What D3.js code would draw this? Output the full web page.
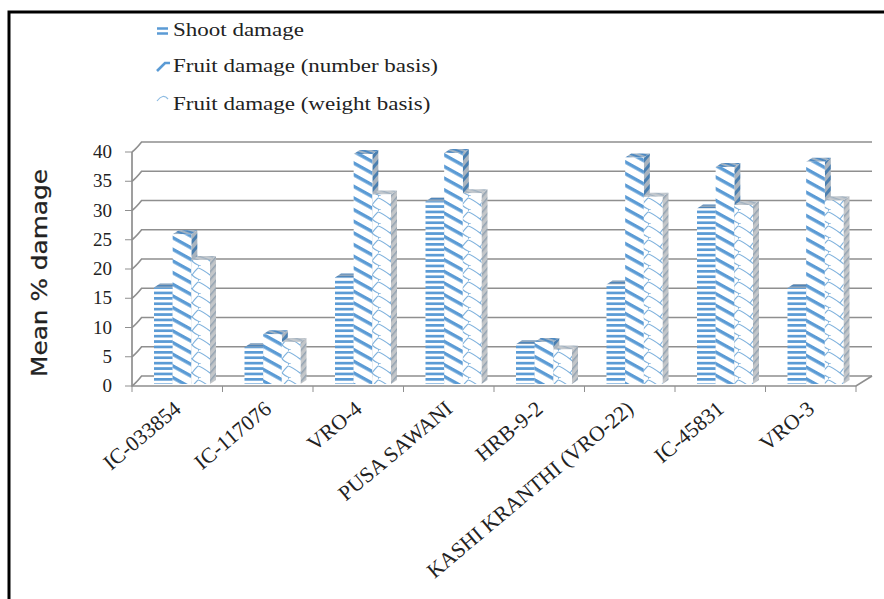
<!DOCTYPE html>
<html><head><meta charset="utf-8">
<script src="https://cdn.jsdelivr.net/npm/d3@7/dist/d3.min.js"></script>
<style>html,body{margin:0;padding:0;background:#fff}svg{display:block}</style>
</head><body><svg id="c" width="884" height="599"></svg>
<script>
const categories = ["IC-033854","IC-117076","VRO-4","PUSA SAWANI","HRB-9-2","KASHI KRANTHI (VRO-22)","IC-45831","VRO-3"];
const seriesNames = ["Shoot damage","Fruit damage (number basis)","Fruit damage (weight basis)"];
const shootDamage = [16.5,6.3,18.2,31.2,6.8,17.0,30.0,16.4];
const fruitNumber = [25.6,8.5,39.3,39.5,7.2,38.7,37.1,38.0];
const fruitWeight = [21.2,7.2,32.4,32.6,5.9,32.0,30.6,31.4];
const allSeries = [shootDamage,fruitNumber,fruitWeight];
const yTicks = [0,5,10,15,20,25,30,35,40];

const svg = d3.select("#c");
const blue = "#5b9bd5", gridCol = "#8f8f8f";
const serif = "'Liberation Serif',serif";
const x0 = d3.scaleBand().domain(categories).range([132,856]);
const y = d3.scaleLinear().domain([0,40]).range([386,152]);
const xs = d3.scaleBand().domain([0,1,2]).range([0,56]);
const wallDx = 16, wallDy = -10, barDx = 6, barDy = -4, barBase = -2, barInset = 22;

const defs = svg.append("defs");
function stripes(id,bg,fg,angle,period,thick){
  const p = defs.append("pattern").attr("id",id).attr("patternUnits","userSpaceOnUse")
    .attr("width",period).attr("height",period).attr("patternTransform",`rotate(${angle})`);
  p.append("rect").attr("width",period).attr("height",period).attr("fill",bg);
  p.append("rect").attr("width",period).attr("height",thick).attr("fill",fg);
}
function weave(id,bg,fg){
  const p = defs.append("pattern").attr("id",id).attr("patternUnits","userSpaceOnUse")
    .attr("width",18).attr("height",14);
  p.append("rect").attr("width",18).attr("height",14).attr("fill",bg);
  p.append("path").attr("fill","none").attr("stroke",fg).attr("stroke-width",1.1)
    .attr("d","M0,2 C4,3 8,6 12,9 C14,11 16,12 18,13 M12,9 C14,6 16,4 18,2 M0,13 C1,14 2,14 3,14 M0,2 C-1,1 0,0 1,0");
}
stripes("pS1","#fff",blue,0,5.4,2.7);
stripes("pS2","#fff",blue,29,10.2,3.4);
weave("pS3","#fff","#7fb2dd");
stripes("pS1t","#8fa6bd","#4f86bb",0,3,1.4);
stripes("pS2s","#a9b4bf","#4a7fb0",-50,7,3);
stripes("pS3s","#c3c6c9","#93a3b2",-50,5,1.5);
stripes("pS2t","#9fb2c4","#4f8ac2",20,4,2);
stripes("pS3t","#c4c9ce","#9fb0c0",20,4,1.4);
const faces = [
 {front:"url(#pS1)",side:"url(#pS1t)",top:"url(#pS1t)"},
 {front:"url(#pS2)",side:"url(#pS2s)",top:"url(#pS2t)"},
 {front:"url(#pS3)",side:"url(#pS3s)",top:"url(#pS3t)"}];

// frame
svg.append("path").attr("d","M9,599V12H884").attr("fill","none").attr("stroke","#000").attr("stroke-width",3);

// walls and gridlines
const grid = svg.append("g").attr("fill","none").attr("stroke",gridCol).attr("stroke-width",1.6);
grid.selectAll("path.g").data(yTicks).join("path").attr("class","g")
  .attr("d",d=>`M132,${y(d)}Q136,${y(d)+wallDy*0.3} ${132+wallDx*0.6},${y(d)+wallDy}H${856+wallDx}`);
grid.append("path").attr("d",`M132,${y(40)}V${y(0)}H856L${856+wallDx},${y(0)+wallDy}`).attr("stroke-width",1.7);
grid.selectAll("path.yt").data(yTicks).join("path").attr("class","yt")
  .attr("d",d=>`M125,${y(d)}H132`).attr("stroke-width",1);
const xTickPos = categories.map(c=>x0(c)).concat([856]);
grid.selectAll("path.xt").data(xTickPos).join("path").attr("class","xt")
  .attr("d",d=>`M${d},${y(0)}V${y(0)+6}`).attr("stroke-width",1);

// y labels
svg.append("g").selectAll("text").data(yTicks).join("text")
  .attr("x",112).attr("y",d=>y(d)+6).attr("text-anchor","end")
  .attr("font-family",serif).attr("font-size",19).attr("fill","#222").text(d=>d);

// bars
const bars = svg.append("g");
categories.forEach((c,i)=>{
  allSeries.forEach((s,k)=>{
    const xl = x0(c)+barInset+xs(k), w = xs.bandwidth();
    const yb = y(0)+barBase, yt = y(s[i])+barBase, f = faces[k];
    bars.append("path").attr("fill",f.side)
      .attr("d",`M${xl+w},${yb}V${yt}l${barDx},${barDy}V${yb+barDy}Z`);
    bars.append("path").attr("fill",f.top)
      .attr("d",`M${xl},${yt}l${barDx},${barDy}h${w}l${-barDx},${-barDy}Z`);
    bars.append("rect").attr("x",xl).attr("y",yt).attr("width",w).attr("height",yb-yt).attr("fill",f.front);
  });
});

// x labels
svg.append("g").selectAll("text").data(categories).join("text")
  .attr("text-anchor","end").attr("font-family",serif).attr("font-size",21.5).attr("fill","#222")
  .attr("transform",c=>`translate(${x0(c)+x0.bandwidth()/2+5},${y(0)+25}) rotate(-40)`)
  .text(c=>c);

// axis title
svg.append("text").attr("transform","translate(47,273) rotate(-90) scale(1.18,1)").attr("text-anchor","middle")
  .attr("font-family","'DejaVu Sans',sans-serif").attr("font-size",21).attr("fill","#222")
  .attr("stroke","#222").attr("stroke-width",0.25).text("Mean % damage");

// legend
const legendY = [36,72,110];
const leg = svg.append("g");
leg.selectAll("text").data(seriesNames).join("text")
  .attr("transform",(d,i)=>`translate(173,${legendY[i]}) scale(1.18,1)`)
  .attr("font-family",serif).attr("font-size",19.5).attr("fill","#222").text(d=>d);
leg.append("path").attr("d","M157,28.5H168M157,33.5H168").attr("stroke",blue).attr("stroke-width",2.6).attr("fill","none");
leg.append("path").attr("d","M157,71L165,63H170").attr("stroke",blue).attr("stroke-width",2.6).attr("fill","none");
leg.append("path").attr("d","M157,101Q163,93 168,99").attr("stroke","#8dbbe2").attr("stroke-width",1.2).attr("fill","none");
</script></body></html>
